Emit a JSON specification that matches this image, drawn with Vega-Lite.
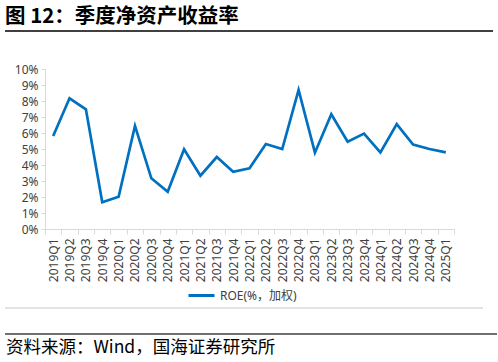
{
  "$schema": "https://vega.github.io/schema/vega-lite/v6.json",
  "width": 409,
  "height": 160,
  "autosize": "none",
  "padding": {"left": 45, "top": 69, "right": 44, "bottom": 133},
  "background": "white",
  "title": {
    "text": "图 12：季度净资产收益率",
    "anchor": "start",
    "frame": "group",
    "dx": -40,
    "offset": 3,
    "font": "Noto Sans CJK SC",
    "fontSize": 20.5,
    "fontWeight": "bold",
    "color": "#000000"
  },
  "config": {
    "font": "'Noto Sans', 'Noto Sans CJK SC'",
    "view": {"stroke": null}
  },
  "data": {
    "values": [
      {"q": "2019Q1", "roe": 5.81, "s": "ROE(%，加权)"},
      {"q": "2019Q2", "roe": 8.17, "s": "ROE(%，加权)"},
      {"q": "2019Q3", "roe": 7.48, "s": "ROE(%，加权)"},
      {"q": "2019Q4", "roe": 1.67, "s": "ROE(%，加权)"},
      {"q": "2020Q1", "roe": 2.02, "s": "ROE(%，加权)"},
      {"q": "2020Q2", "roe": 6.44, "s": "ROE(%，加权)"},
      {"q": "2020Q3", "roe": 3.17, "s": "ROE(%，加权)"},
      {"q": "2020Q4", "roe": 2.33, "s": "ROE(%，加权)"},
      {"q": "2021Q1", "roe": 4.98, "s": "ROE(%，加权)"},
      {"q": "2021Q2", "roe": 3.33, "s": "ROE(%，加权)"},
      {"q": "2021Q3", "roe": 4.5, "s": "ROE(%，加权)"},
      {"q": "2021Q4", "roe": 3.58, "s": "ROE(%，加权)"},
      {"q": "2022Q1", "roe": 3.8, "s": "ROE(%，加权)"},
      {"q": "2022Q2", "roe": 5.31, "s": "ROE(%，加权)"},
      {"q": "2022Q3", "roe": 5.0, "s": "ROE(%，加权)"},
      {"q": "2022Q4", "roe": 8.69, "s": "ROE(%，加权)"},
      {"q": "2023Q1", "roe": 4.77, "s": "ROE(%，加权)"},
      {"q": "2023Q2", "roe": 7.17, "s": "ROE(%，加权)"},
      {"q": "2023Q3", "roe": 5.46, "s": "ROE(%，加权)"},
      {"q": "2023Q4", "roe": 5.96, "s": "ROE(%，加权)"},
      {"q": "2024Q1", "roe": 4.79, "s": "ROE(%，加权)"},
      {"q": "2024Q2", "roe": 6.56, "s": "ROE(%，加权)"},
      {"q": "2024Q3", "roe": 5.27, "s": "ROE(%，加权)"},
      {"q": "2024Q4", "roe": 5.0, "s": "ROE(%，加权)"},
      {"q": "2025Q1", "roe": 4.79, "s": "ROE(%，加权)"}
    ]
  },
  "layer": [
    {
      "mark": {"type": "line", "strokeWidth": 2.7},
      "encoding": {
        "x": {
          "field": "q",
          "type": "ordinal",
          "sort": null,
          "bandPosition": 0.5,
          "scale": {"type": "band", "paddingInner": 0, "paddingOuter": 0},
          "axis": {
            "title": null,
            "labelAngle": 270,
            "labelFontSize": 12,
            "labelColor": "#404040",
            "labelPadding": 4,
            "tickBand": "extent",
            "tickSize": 5,
            "tickColor": "#d9d9d9",
            "domainColor": "#d9d9d9",
            "grid": false
          }
        },
        "y": {
          "field": "roe",
          "type": "quantitative",
          "scale": {"domain": [0, 10], "nice": false},
          "axis": {
            "title": null,
            "values": [0, 1, 2, 3, 4, 5, 6, 7, 8, 9, 10],
            "labelExpr": "datum.value + '%'",
            "labelFontSize": 12,
            "labelColor": "#404040",
            "labelPadding": 3,
            "tickSize": 4,
            "tickColor": "#d9d9d9",
            "domainColor": "#d9d9d9",
            "grid": false
          }
        },
        "color": {
          "field": "s",
          "type": "nominal",
          "scale": {"range": ["#0070C0"]},
          "legend": {
            "title": null,
            "orient": "none",
            "legendX": 142,
            "legendY": 212,
            "symbolType": "stroke",
            "symbolSize": 676,
            "symbolStrokeWidth": 3,
            "labelFontSize": 12,
            "labelColor": "#404040",
            "labelOffset": 4
          }
        }
      }
    },
    {
      "data": {"values": [{}]},
      "mark": {"type": "rule", "color": "#000000", "strokeWidth": 1.3},
      "encoding": {"x": {"value": -40}, "x2": {"value": 448}, "y": {"value": -38}}
    },
    {
      "data": {"values": [{}]},
      "mark": {"type": "rule", "color": "#c8c8c8", "strokeWidth": 1},
      "encoding": {"x": {"value": -40}, "x2": {"value": 438}, "y": {"value": 239}}
    },
    {
      "data": {"values": [{}]},
      "mark": {"type": "rule", "color": "#404040", "strokeWidth": 1.5},
      "encoding": {"x": {"value": -40}, "x2": {"value": 452}, "y": {"value": 265}}
    },
    {
      "data": {"values": [{}]},
      "mark": {"type": "text", "align": "left", "baseline": "alphabetic", "font": "Noto Sans CJK SC", "fontSize": 17.5, "color": "#000000"},
      "encoding": {"x": {"value": -39}, "y": {"value": 284}, "text": {"value": "资料来源：Wind，国海证券研究所"}}
    }
  ]
}
